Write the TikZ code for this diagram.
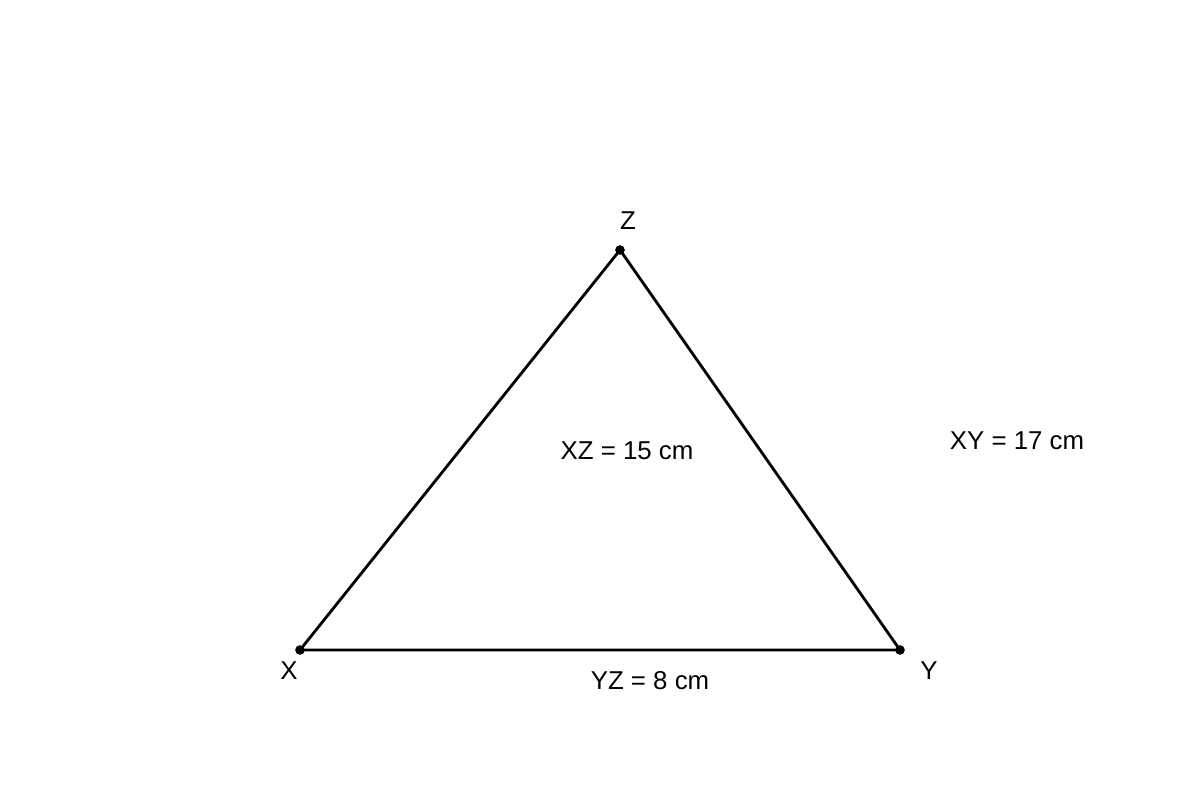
\documentclass[tikz,border=0pt]{standalone}
\usepackage{fontspec}
\setmainfont{Liberation Sans}
\begin{document}
\begin{tikzpicture}[x=0.02cm,y=-0.02cm,
  lbl/.style={font=\fontsize{14.7}{17}\selectfont, inner sep=0pt},
  side/.style={line width=1.6pt, line join=round},
  dot/.style={circle, fill=black, inner sep=0pt, minimum size=5.5pt}]
\useasboundingbox (0,0) rectangle (1200,800);
\node[dot] (X) at (300,650) {};
\node[dot] (Y) at (900,650) {};
\node[dot] (Z) at (620,250) {};
\draw[side] (X.center) -- (Y.center) -- (Z.center) -- cycle;
\node[lbl] (lZ) at (628,221) {Z};
\node[lbl] (lX) at (289,671) {X};
\node[lbl] (lY) at (929,671) {Y};
\node[lbl] (lXZ) at (627,451) {XZ = 15 cm};
\node[lbl] (lXY) at (1017,441) {XY = 17 cm};
\node[lbl] (lYZ) at (650,681) {YZ = 8 cm};
\end{tikzpicture}
\end{document}
